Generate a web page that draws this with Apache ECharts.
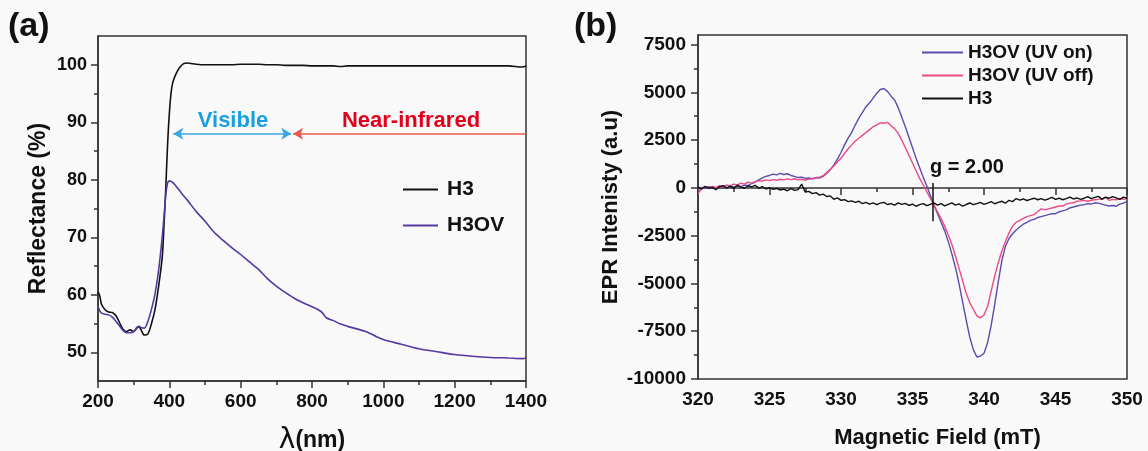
<!DOCTYPE html>
<html>
<head>
<meta charset="utf-8">
<script src="https://cdn.jsdelivr.net/npm/echarts@6/dist/echarts.min.js"></script>
<style>
  html, body { margin: 0; padding: 0; background: #f9f9f9; }
  #chart { width: 1148px; height: 451px; }
</style>
</head>
<body>
<div id="chart"></div>
<script>
// (a) 反射光谱
const wavelength = [200, 205, 210, 220, 230, 240, 250, 260, 270, 280, 290, 300, 310, 315, 320, 330, 340, 350, 360, 370,
  380, 385, 390, 395, 400, 405, 410, 420, 430, 440, 450, 475, 500, 525, 550, 575, 600, 625, 650, 675,
  700, 725, 750, 775, 800, 820, 830, 840, 860, 880, 900, 950, 1000, 1050, 1100, 1150, 1200, 1250, 1300, 1350,
  1390, 1400];
const reflH3 = [60.5, 59.8, 58.3, 57.4, 57.0, 56.9, 56.4, 55.2, 54.0, 53.6, 53.9, 53.6, 54.3, 54.4, 54.0, 53.0, 53.2, 55.0, 57.5, 61.5,
  66.5, 72, 78.5, 86, 91.5, 95.2, 97.0, 98.6, 99.6, 100.2, 100.3, 100.1, 100.0, 100.0, 100.0, 100.0, 100.1, 100.1, 100.1, 100.0,
  100.0, 99.9, 99.9, 99.9, 99.8, 99.8, 99.8, 99.8, 99.8, 99.7, 99.8, 99.8, 99.8, 99.8, 99.8, 99.8, 99.8, 99.8, 99.8, 99.8,
  99.6, 99.8];
const reflH3OV = [58.0, 57.2, 56.8, 56.6, 56.5, 56.1, 55.4, 54.6, 53.8, 53.4, 53.4, 53.6, 54.4, 54.5, 54.3, 54.2, 55.4, 57.5, 60.2, 64.3,
  70.0, 73.5, 77.3, 79.4, 79.8, 79.7, 79.5, 78.8, 78.0, 77.2, 76.5, 74.5, 72.8, 70.9, 69.5, 68.2, 67.0, 65.7, 64.4, 62.8,
  61.5, 60.4, 59.4, 58.6, 57.9, 57.3, 56.8, 56.0, 55.5, 54.9, 54.5, 53.6, 52.2, 51.4, 50.6, 50.1, 49.6, 49.3, 49.1, 49.0,
  48.9, 49.0];
const reflTicks = [50, 60, 70, 80, 90, 100];
const reflMinorTicks = [55, 65, 75, 85, 95];
// 可见光 / 近红外 范围 (nm) 与箭头所在高度
const visibleRange = [411, 742];
const nirRange = [747, 1400];
const arrowLevel = 88;

// (b) EPR
const field = [320.00, 320.25, 320.50, 320.75, 321.00, 321.25, 321.50, 321.75, 322.00, 322.25, 322.50, 322.75,
  323.00, 323.25, 323.50, 323.75, 324.00, 324.25, 324.50, 324.75, 325.00, 325.25, 325.50, 325.75,
  326.00, 326.25, 326.50, 326.75, 327.00, 327.25, 327.50, 327.75, 328.00, 328.25, 328.50, 328.75,
  329.00, 329.25, 329.50, 329.75, 330.00, 330.25, 330.50, 330.75, 331.00, 331.25, 331.50, 331.75,
  332.00, 332.25, 332.50, 332.75, 333.00, 333.25, 333.50, 333.75, 334.00, 334.25, 334.50, 334.75,
  335.00, 335.25, 335.50, 335.75, 336.00, 336.25, 336.50, 336.75, 337.00, 337.25, 337.50, 337.75,
  338.00, 338.25, 338.50, 338.75, 339.00, 339.25, 339.50, 339.75, 340.00, 340.25, 340.50, 340.75,
  341.00, 341.25, 341.50, 341.75, 342.00, 342.25, 342.50, 342.75, 343.00, 343.25, 343.50, 343.75,
  344.00, 344.25, 344.50, 344.75, 345.00, 345.25, 345.50, 345.75, 346.00, 346.25, 346.50, 346.75,
  347.00, 347.25, 347.50, 347.75, 348.00, 348.25, 348.50, 348.75, 349.00, 349.25, 349.50, 349.75,
  350.00];
const eprUvOn = [-100, 20, -30, 60, 10, -40, 80, 30, -20, 90, 40, 110,
  60, 150, 120, 230, 300, 420, 520, 600, 650, 720, 680, 760,
  700, 740, 650, 600, 540, 560, 500, 520, 480, 540, 520, 600,
  750, 950, 1200, 1500, 1850, 2250, 2600, 2900, 3300, 3650, 3950, 4250,
  4450, 4700, 4950, 5150, 5200, 5050, 4800, 4600, 4200, 3700, 3200, 2650,
  2100, 1550, 1050, 550, 100, -400, -900, -1350, -1800, -2250, -2800, -3450,
  -4150, -5000, -5950, -6900, -7800, -8450, -8850, -8800, -8650, -8100, -7200, -6100,
  -4900, -3800, -3050, -2650, -2400, -2200, -2050, -1900, -1800, -1700, -1650, -1550,
  -1500, -1450, -1400, -1350, -1350, -1250, -1200, -1150, -1050, -1000, -950, -900,
  -880, -820, -850, -780, -800, -850, -900, -950, -920, -960, -850, -800,
  -700];
const eprUvOff = [-300, -50, 50, 0, 80, 20, 120, 60, 150, 90, 200, 160,
  250, 200, 300, 250, 330, 380, 350, 420, 380, 430, 400, 450,
  420, 470, 430, 480, 420, 450, 400, 460, 480, 520, 560, 640,
  800, 980, 1150, 1350, 1550, 1800, 2050, 2250, 2450, 2600, 2750, 2900,
  3050, 3200, 3300, 3400, 3380, 3430, 3250, 3100, 2850, 2500, 2100, 1700,
  1300, 900, 500, 150, -200, -550, -900, -1250, -1600, -2000, -2450, -2950,
  -3550, -4200, -4850, -5500, -6000, -6350, -6700, -6800, -6650, -6200, -5400, -4600,
  -3900, -3300, -2800, -2350, -2000, -1800, -1700, -1600, -1500, -1450, -1400, -1250,
  -1100, -1150, -1100, -1050, -1000, -950, -950, -850, -800, -780, -700, -680,
  -650, -700, -650, -620, -600, -560, -500, -650, -600, -620, -550, -600,
  -560];
const eprH3 = [50, -60, 80, -20, 30, -100, 60, 120, 0, 90, -30, 140,
  40, -20, 110, 50, 130, -10, 70, -60, 20, -80, -30, -110,
  -60, -150, -40, -130, -90, 200, -220, -180, -300, -250, -380, -330,
  -450, -420, -600, -520, -650, -620, -720, -680, -760, -700, -820, -760,
  -850, -780, -880, -800, -760, -870, -820, -900, -780, -860, -810, -920,
  -850, -960, -880, -820, -930, -860, -780, -900, -820, -940, -860, -780,
  -900, -840, -960, -870, -790, -880, -820, -760, -860, -800, -720, -830,
  -760, -700, -800, -650, -720, -560, -640, -580, -660, -600, -540, -620,
  -560, -640, -580, -500, -600, -540, -620, -560, -480, -580, -520, -600,
  -540, -460, -560, -500, -440, -600, -480, -540, -460, -520, -600, -480,
  -540];
const eprTicks = [-10000, -7500, -5000, -2500, 0, 2500, 5000, 7500];
const eprMinorTicks = [-8750, -6250, -3750, -1250, 1250, 3750, 6250];
// g = 2.00 标记
const gField = 336.4;
const gSpan = [250, -1750];

const font = 'Liberation Sans, Arial, sans-serif';
const ink = '#111';

const pairs = (xs, ys) => xs.map((x, i) => [x, ys[i]]);

const axisLine = { show: true, lineStyle: { color: '#333', width: 1.5 } };
const tickLabel = size => ({
  color: ink, fontFamily: font, fontWeight: 'bold', fontSize: size,
  formatter: v => String(v)   // 不要千分位逗号
});

let option = {
  backgroundColor: '#f9f9f9',
  animation: false,
  textStyle: { fontFamily: font },
  grid: [
    { left: 98, right: 622, top: 36, bottom: 70, outerBoundsMode: 'none', show: true, borderColor: '#333', borderWidth: 1.5, backgroundColor: 'transparent' },
    { left: 698, right: 21, top: 35, bottom: 72, outerBoundsMode: 'none', show: true, borderColor: '#333', borderWidth: 1.5, backgroundColor: 'transparent' }
  ],
  legend: [
    {
      data: ['H3', 'H3OV'],
      orient: 'vertical',
      left: 403,
      top: 179,
      padding: 0,
      icon: 'rect',
      itemWidth: 35,
      itemHeight: 2,
      itemGap: 15,
      textStyle: { fontSize: 21, fontWeight: 'bold', color: ink, fontFamily: font, padding: [0, 0, 0, 4] }
    },
    {
      data: ['H3OV (UV on)', 'H3OV (UV off)', 'H3'],
      orient: 'vertical',
      left: 922,
      top: 43,
      padding: 0,
      icon: 'rect',
      itemWidth: 41,
      itemHeight: 2,
      itemGap: 4,
      textStyle: { fontSize: 19, fontWeight: 'bold', color: ink, fontFamily: font }
    }
  ],
  xAxis: [
    {
      gridIndex: 0,
      type: 'value',
      min: 200,
      max: 1400,
      interval: 200,
      name: '{l|λ}{b|(nm)}',
      nameLocation: 'middle',
      nameGap: 46,
      nameTextStyle: {
        rich: {
          l: { fontSize: 28, color: ink, fontFamily: 'DejaVu Sans, sans-serif' },
          b: { fontSize: 23, fontWeight: 'bold', color: ink, fontFamily: font }
        }
      },
      axisLine: axisLine,
      axisTick: { length: 7, lineStyle: { color: '#333', width: 1.5 } },
      minorTick: { show: true, splitNumber: 2, length: 4, lineStyle: { color: '#333', width: 1.5 } },
      axisLabel: Object.assign({ margin: 11 }, tickLabel(19)),
      splitLine: { show: false }
    },
    {
      gridIndex: 1,
      type: 'value',
      min: 320,
      max: 350,
      interval: 5,
      name: 'Magnetic Field (mT)',
      nameLocation: 'middle',
      nameGap: 48,
      nameTextStyle: { fontSize: 22, fontWeight: 'bold', color: ink, fontFamily: font, padding: [0, 0, 0, 50] },
      axisLine: axisLine,
      axisTick: { length: 7, lineStyle: { color: '#333', width: 1.5 } },
      minorTick: { show: true, splitNumber: 2, length: 4, lineStyle: { color: '#333', width: 1.5 } },
      axisLabel: Object.assign({ margin: 11 }, tickLabel(19)),
      splitLine: { show: false }
    }
  ],
  yAxis: [
    {
      gridIndex: 0,
      type: 'value',
      position: 'left',
      min: 45,
      max: 105,
      name: 'Reflectance (%)',
      nameLocation: 'middle',
      nameGap: 48,
      nameTextStyle: { fontSize: 23, fontWeight: 'bold', color: ink, fontFamily: font },
      axisLine: axisLine,
      axisTick: { customValues: reflTicks, length: 7, lineStyle: { color: '#333', width: 1.5 } },
      axisLabel: Object.assign({ customValues: reflTicks, margin: 11 }, tickLabel(18)),
      splitLine: { show: false }
    },
    {
      gridIndex: 0,
      type: 'value',
      position: 'left',
      min: 45,
      max: 105,
      axisLine: { show: false },
      axisTick: { customValues: reflMinorTicks, length: 4, lineStyle: { color: '#333', width: 1.5 } },
      axisLabel: { show: false },
      splitLine: { show: false }
    },
    {
      gridIndex: 1,
      type: 'value',
      position: 'left',
      min: -10000,
      max: 8000,
      name: 'EPR Intenisty (a.u)',
      nameLocation: 'middle',
      nameGap: 76,
      nameTextStyle: { fontSize: 22, fontWeight: 'bold', color: ink, fontFamily: font },
      axisLine: axisLine,
      axisTick: { customValues: eprTicks, length: 7, lineStyle: { color: '#333', width: 1.5 } },
      axisLabel: Object.assign({ customValues: eprTicks, margin: 12 }, tickLabel(19)),
      splitLine: { show: false }
    },
    {
      gridIndex: 1,
      type: 'value',
      position: 'left',
      min: -10000,
      max: 8000,
      axisLine: { show: false },
      axisTick: { customValues: eprMinorTicks, length: 4, lineStyle: { color: '#333', width: 1.5 } },
      axisLabel: { show: false },
      splitLine: { show: false }
    }
  ],
  series: [
    {
      name: 'H3',
      type: 'line',
      xAxisIndex: 0,
      yAxisIndex: 0,
      symbol: 'none',
      smooth: 0.3,
      color: '#111',
      lineStyle: { width: 1.6, color: '#111' },
      data: pairs(wavelength, reflH3),
      markLine: {
        silent: true,
        label: { show: false },
        symbolSize: [9, 10],
        data: [
          [
            { coord: [visibleRange[0], arrowLevel], symbol: 'arrow', lineStyle: { color: '#3aa6e2', width: 1.5, type: 'solid' } },
            { coord: [visibleRange[1], arrowLevel], symbol: 'arrow' }
          ],
          [
            { coord: [nirRange[0], arrowLevel], symbol: 'arrow', lineStyle: { color: '#e8584a', width: 1.5, type: 'solid' } },
            { coord: [nirRange[1], arrowLevel], symbol: 'none' }
          ]
        ]
      }
    },
    {
      name: 'H3OV',
      type: 'line',
      xAxisIndex: 0,
      yAxisIndex: 0,
      symbol: 'none',
      smooth: 0.3,
      color: '#5638a0',
      lineStyle: { width: 1.6, color: '#5638a0' },
      data: pairs(wavelength, reflH3OV)
    },
    {
      name: 'H3OV (UV on)',
      type: 'line',
      xAxisIndex: 1,
      yAxisIndex: 2,
      symbol: 'none',
      color: '#5a4cae',
      lineStyle: { width: 1.4, color: '#5a4cae' },
      data: pairs(field, eprUvOn)
    },
    {
      name: 'H3OV (UV off)',
      type: 'line',
      xAxisIndex: 1,
      yAxisIndex: 2,
      symbol: 'none',
      color: '#ea4a86',
      lineStyle: { width: 1.4, color: '#ea4a86' },
      data: pairs(field, eprUvOff)
    },
    {
      name: 'H3',
      type: 'line',
      xAxisIndex: 1,
      yAxisIndex: 2,
      symbol: 'none',
      color: '#111',
      lineStyle: { width: 1.4, color: '#111' },
      data: pairs(field, eprH3),
      markLine: {
        silent: true,
        symbol: 'none',
        label: { show: false },
        lineStyle: { color: '#111', width: 1.5, type: 'solid' },
        data: [[{ coord: [gField, gSpan[0]] }, { coord: [gField, gSpan[1]] }]]
      }
    }
  ],
  graphic: [
    { type: 'text', left: 8, top: 10, style: { text: '(a)', font: 'bold 34px ' + font, fill: ink } },
    { type: 'text', left: 574, top: 10, style: { text: '(b)', font: 'bold 34px ' + font, fill: ink } },
    { type: 'text', x: 233, y: 121, style: { text: 'Visible', font: 'bold 22px ' + font, fill: '#1a9fe3', align: 'center', verticalAlign: 'middle' } },
    { type: 'text', x: 411, y: 121, style: { text: 'Near-infrared', font: 'bold 22px ' + font, fill: '#e3001b', align: 'center', verticalAlign: 'middle' } },
    { type: 'text', x: 930, y: 167, style: { text: 'g = 2.00', font: 'bold 20px ' + font, fill: ink, align: 'left', verticalAlign: 'middle' } }
  ]
};

let myChart = echarts.init(document.getElementById('chart'));
myChart.setOption(option);
</script>
</body>
</html>
